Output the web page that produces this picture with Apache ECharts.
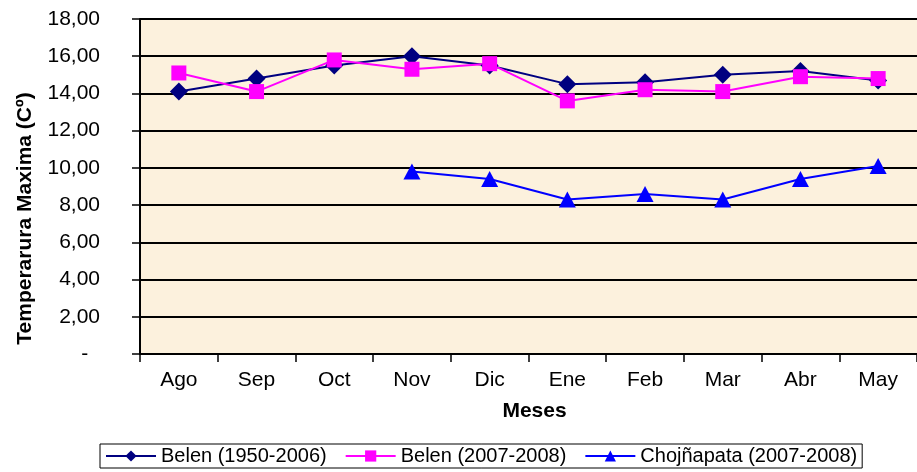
<!DOCTYPE html>
<html>
<head>
<meta charset="utf-8">
<script src="https://cdn.jsdelivr.net/npm/echarts@6/dist/echarts.min.js"></script>
<style>
  html, body { margin: 0; padding: 0; background: #ffffff; }
  #chart { width: 917px; height: 472px; }
</style>
</head>
<body>
<div id="chart"></div>
<script>
// Monthly maximum temperature (°C)
const months = ['Ago', 'Sep', 'Oct', 'Nov', 'Dic', 'Ene', 'Feb', 'Mar', 'Abr', 'May'];
const belenHist = [14.1, 14.8, 15.5, 16.0, 15.5, 14.5, 14.6, 15.0, 15.2, 14.7];
const belenRecent = [15.1, 14.1, 15.8, 15.3, 15.6, 13.6, 14.2, 14.1, 14.9, 14.8];
const chojnapata = [null, null, null, 9.8, 9.4, 8.3, 8.6, 8.3, 9.4, 10.1];
const seriesNames = ['Belen (1950-2006)', 'Belen (2007-2008)', 'Chojñapata (2007-2008)'];

const FONT = '"Liberation Sans", Arial, sans-serif';

const chart = echarts.init(document.getElementById('chart'), null, { renderer: 'canvas' });

function lineSeries(name, data, color, symbol, size) {
  return {
    name: name,
    type: 'line',
    data: data,
    symbol: symbol,
    symbolSize: size,
    connectNulls: false,
    lineStyle: { color: color, width: 2 },
    itemStyle: { color: color },
    emphasis: { disabled: true },
    animation: false
  };
}

chart.setOption({
  animation: false,
  textStyle: { fontFamily: FONT, color: '#000' },
  grid: {
    left: 140, top: 19, width: 780, height: 335,
    show: true, backgroundColor: '#FCF1DD', borderWidth: 0
  },
  xAxis: {
    type: 'category',
    data: months,
    boundaryGap: true,
    name: 'Meses',
    nameLocation: 'middle',
    nameGap: 47,
    nameTextStyle: { fontFamily: FONT, fontSize: 21, fontWeight: 'bold', color: '#000', padding: [0, 0, 0, 12] },
    axisLine: { lineStyle: { color: '#000', width: 2 } },
    axisTick: { show: true, length: 8, lineStyle: { color: '#000', width: 1.5 } },
    axisLabel: { fontFamily: FONT, fontSize: 21, color: '#000', margin: 16, interval: 0 },
    splitLine: { show: false }
  },
  yAxis: {
    type: 'value',
    min: 0, max: 18, interval: 2,
    name: 'Temperarura Maxima (Cº)',
    nameLocation: 'middle',
    nameGap: 104,
    nameTextStyle: { fontFamily: FONT, fontSize: 21, fontWeight: 'bold', color: '#000', padding: [0, 64, 0, 0] },
    axisLine: { show: true, lineStyle: { color: '#000', width: 2 } },
    axisTick: { show: true, length: 8, lineStyle: { color: '#000', width: 1.5 } },
    axisLabel: {
      fontFamily: FONT, fontSize: 21, color: '#000', margin: 40,
      formatter: function (v) { return v === 0 ? '-  ' : v.toFixed(2).replace('.', ','); }
    },
    splitLine: { show: true, lineStyle: { color: '#000', width: 2 } }
  },
  legend: {
    data: seriesNames,
    left: 100, top: 444,
    orient: 'horizontal',
    itemWidth: 50, itemHeight: 14, itemGap: 18,
    padding: [2, 5],
    borderColor: '#000', borderWidth: 1,
    backgroundColor: '#fff',
    textStyle: { fontFamily: FONT, fontSize: 20, color: '#000' },
    selectedMode: false
  },
  series: [
    lineSeries(seriesNames[0], belenHist, '#000080', 'diamond', 18),
    lineSeries(seriesNames[1], belenRecent, '#FF00FF', 'rect', 15),
    lineSeries(seriesNames[2], chojnapata, '#0000FF', 'triangle', [17, 16])
  ]
});
</script>
</body>
</html>
